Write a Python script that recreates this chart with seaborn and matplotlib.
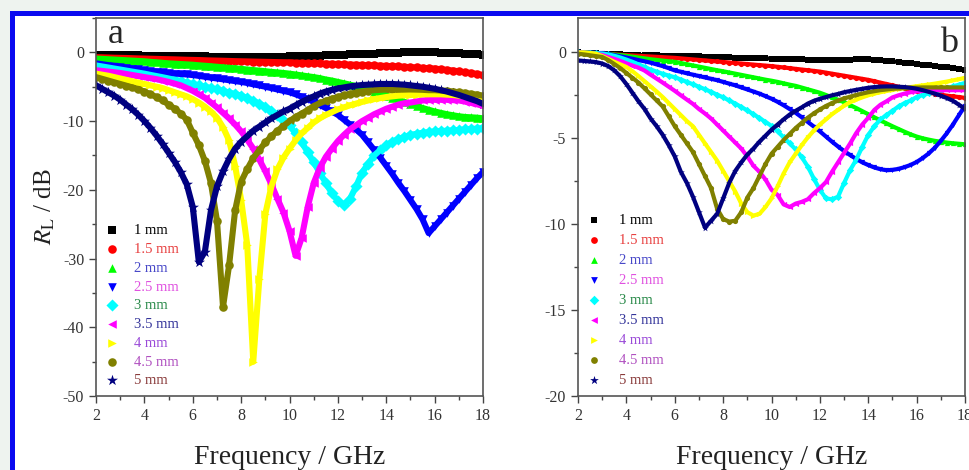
import matplotlib
matplotlib.use("Agg")
import matplotlib.pyplot as plt
from matplotlib.patches import Rectangle
from matplotlib.ticker import MultipleLocator
import numpy as np
import seaborn as sns

sns.set_style("ticks")
plt.rcParams['font.family'] = ['Liberation Serif', 'DejaVu Serif']
plt.rcParams['mathtext.fontset'] = 'stix'
plt.rcParams['axes.unicode_minus'] = False

# frequency grid (GHz), shared by both panels
freq = [2.0, 2.25, 2.5, 2.75, 3.0, 3.25, 3.5, 3.75,
        4.0, 4.25, 4.5, 4.75, 5.0, 5.25, 5.5, 5.75,
        6.0, 6.25, 6.5, 6.75, 7.0, 7.25, 7.5, 7.75,
        8.0, 8.25, 8.5, 8.75, 9.0, 9.25, 9.5, 9.75,
        10.0, 10.25, 10.5, 10.75, 11.0, 11.25, 11.5, 11.75,
        12.0, 12.25, 12.5, 12.75, 13.0, 13.25, 13.5, 13.75,
        14.0, 14.25, 14.5, 14.75, 15.0, 15.25, 15.5, 15.75,
        16.0, 16.25, 16.5, 16.75, 17.0, 17.25, 17.5, 17.75,
        18.0]

labels = ["1 mm", "1.5 mm", "2 mm", "2.5 mm", "3 mm", "3.5 mm", "4 mm", "4.5 mm", "5 mm"]

# ---- panel a: reflection loss (dB)
a_1mm = [-0.4, -0.4, -0.4, -0.4, -0.4, -0.45, -0.45, -0.45,
         -0.5, -0.5, -0.5, -0.5, -0.55, -0.55, -0.55, -0.6,
         -0.6, -0.6, -0.6, -0.65, -0.65, -0.65, -0.65, -0.7,
         -0.7, -0.7, -0.7, -0.7, -0.7, -0.7, -0.65, -0.65,
         -0.6, -0.6, -0.55, -0.55, -0.5, -0.5, -0.45, -0.4,
         -0.4, -0.35, -0.3, -0.3, -0.25, -0.2, -0.2, -0.15,
         -0.1, -0.1, -0.05, 0.0, 0.0, 0.0, 0.0, 0.0,
         0.0, -0.05, -0.1, -0.1, -0.15, -0.2, -0.25, -0.3,
         -0.35]
a_15mm = [-0.7, -0.72, -0.75, -0.78, -0.8, -0.82, -0.85, -0.88,
          -0.9, -0.93, -0.95, -0.98, -1.0, -1.02, -1.05, -1.08,
          -1.1, -1.12, -1.15, -1.18, -1.2, -1.22, -1.25, -1.28,
          -1.3, -1.32, -1.34, -1.36, -1.38, -1.4, -1.42, -1.44,
          -1.46, -1.5, -1.52, -1.55, -1.58, -1.6, -1.64, -1.67,
          -1.7, -1.74, -1.78, -1.8, -1.84, -1.88, -1.9, -1.94,
          -1.98, -2.0, -2.04, -2.1, -2.15, -2.2, -2.25, -2.3,
          -2.36, -2.45, -2.55, -2.65, -2.75, -2.9, -3.0, -3.15,
          -3.3]
a_2mm = [-0.9, -0.95, -1.0, -1.05, -1.1, -1.15, -1.2, -1.25,
         -1.3, -1.38, -1.45, -1.52, -1.6, -1.65, -1.7, -1.75,
         -1.8, -1.88, -1.95, -2.02, -2.1, -2.18, -2.25, -2.32,
         -2.4, -2.5, -2.58, -2.66, -2.75, -2.84, -2.92, -3.0,
         -3.1, -3.22, -3.35, -3.48, -3.6, -3.75, -3.95, -4.1,
         -4.3, -4.5, -4.7, -4.9, -5.1, -5.4, -5.7, -6.0,
         -6.3, -6.6, -6.9, -7.2, -7.5, -7.8, -8.1, -8.35,
         -8.6, -8.8, -9.0, -9.15, -9.3, -9.4, -9.45, -9.5,
         -9.6]
a_25mm = [-1.6, -1.72, -1.85, -1.98, -2.1, -2.22, -2.35, -2.48,
          -2.6, -2.7, -2.8, -2.9, -3.0, -3.08, -3.15, -3.22,
          -3.3, -3.42, -3.55, -3.68, -3.8, -3.92, -4.05, -4.18,
          -4.3, -4.45, -4.65, -4.82, -5.0, -5.2, -5.4, -5.6,
          -5.8, -6.1, -6.45, -6.8, -7.2, -7.65, -8.1, -8.6,
          -9.1, -9.8, -10.5, -11.2, -12.0, -13.1, -14.2, -15.3,
          -16.5, -17.7, -19.0, -20.2, -21.5, -22.8, -24.3, -26.3,
          -25.3, -24.3, -23.3, -22.3, -21.3, -20.3, -19.3, -18.3,
          -17.4]
a_3mm = [-1.9, -2.05, -2.2, -2.35, -2.5, -2.65, -2.8, -2.95,
         -3.1, -3.28, -3.45, -3.62, -3.8, -4.0, -4.2, -4.4,
         -4.6, -4.8, -5.0, -5.2, -5.4, -5.6, -5.85, -6.05,
         -6.3, -6.65, -7.05, -7.45, -7.9, -8.5, -9.1, -9.8,
         -10.6, -11.8, -13.1, -14.5, -16.0, -17.5, -19.0, -20.5,
         -21.6, -22.2, -21.3, -19.5, -17.5, -16.2, -15.0, -14.2,
         -13.5, -13.0, -12.6, -12.3, -12.0, -11.85, -11.7, -11.6,
         -11.5, -11.45, -11.4, -11.35, -11.3, -11.2, -11.15, -11.1,
         -11.0]
a_35mm = [-2.6, -2.7, -2.8, -2.9, -3.0, -3.15, -3.3, -3.45,
          -3.6, -3.75, -3.9, -4.1, -4.3, -4.55, -4.8, -5.2,
          -5.6, -6.1, -6.6, -7.3, -8.0, -8.8, -9.6, -10.5,
          -11.5, -12.7, -14.0, -15.6, -17.3, -19.2, -21.3, -23.3,
          -26.0, -29.6, -27.0, -22.5, -19.0, -16.8, -15.2, -14.0,
          -12.9, -12.0, -11.2, -10.6, -10.0, -9.5, -9.0, -8.6,
          -8.2, -7.9, -7.6, -7.4, -7.3, -7.15, -7.0, -6.95,
          -6.9, -6.9, -6.9, -6.95, -7.0, -7.15, -7.35, -7.55,
          -7.8]
a_4mm = [-3.1, -3.25, -3.4, -3.6, -3.8, -4.0, -4.2, -4.4,
         -4.6, -4.8, -5.0, -5.2, -5.5, -5.8, -6.1, -6.4,
         -6.8, -7.3, -7.9, -8.6, -9.5, -10.9, -12.8, -16.5,
         -21.5, -28.0, -45.0, -33.0, -23.5, -19.5, -17.0, -15.3,
         -14.0, -12.8, -11.8, -11.0, -10.2, -9.6, -9.1, -8.7,
         -8.3, -8.0, -7.7, -7.45, -7.2, -7.0, -6.8, -6.65,
         -6.5, -6.4, -6.3, -6.25, -6.2, -6.15, -6.1, -6.1,
         -6.1, -6.1, -6.15, -6.2, -6.3, -6.4, -6.55, -6.65,
         -6.8]
a_45mm = [-3.6, -3.85, -4.1, -4.35, -4.6, -4.85, -5.1, -5.4,
          -5.7, -6.1, -6.5, -7.0, -7.6, -8.2, -8.9, -9.8,
          -11.7, -13.5, -15.8, -19.0, -24.5, -37.0, -31.0, -23.0,
          -18.8, -17.0, -15.4, -14.2, -13.1, -12.2, -11.4, -10.7,
          -10.0, -9.4, -8.9, -8.4, -7.8, -7.4, -7.05, -6.75,
          -6.5, -6.25, -6.05, -5.85, -5.7, -5.6, -5.5, -5.45,
          -5.4, -5.4, -5.4, -5.4, -5.4, -5.42, -5.45, -5.5,
          -5.5, -5.55, -5.6, -5.7, -5.8, -5.9, -6.05, -6.15,
          -6.3]
a_5mm = [-4.8, -5.3, -5.8, -6.3, -6.9, -7.6, -8.3, -9.1,
         -10.0, -11.0, -12.1, -13.3, -14.6, -15.9, -17.4, -19.2,
         -22.5, -30.5, -29.0, -23.0, -19.5, -17.3, -15.5, -14.0,
         -13.0, -12.2, -11.4, -10.8, -10.2, -9.6, -9.1, -8.6,
         -8.2, -7.7, -7.2, -6.8, -6.4, -6.0, -5.7, -5.45,
         -5.25, -5.1, -4.95, -4.85, -4.75, -4.7, -4.65, -4.6,
         -4.6, -4.6, -4.65, -4.7, -4.8, -4.9, -5.0, -5.15,
         -5.3, -5.5, -5.7, -5.95, -6.2, -6.5, -6.8, -7.1,
         -7.5]

# ---- panel b
b_1mm = [0.0, -0.02, -0.04, -0.06, -0.08, -0.1, -0.11, -0.12,
         -0.13, -0.14, -0.15, -0.16, -0.17, -0.18, -0.19, -0.2,
         -0.2, -0.21, -0.22, -0.23, -0.24, -0.25, -0.26, -0.27,
         -0.28, -0.29, -0.3, -0.31, -0.32, -0.33, -0.34, -0.35,
         -0.36, -0.37, -0.38, -0.39, -0.4, -0.41, -0.42, -0.43,
         -0.44, -0.44, -0.44, -0.43, -0.42, -0.42, -0.41, -0.41,
         -0.4, -0.42, -0.45, -0.48, -0.52, -0.56, -0.6, -0.64,
         -0.68, -0.72, -0.76, -0.8, -0.84, -0.88, -0.92, -0.96,
         -1.0]
b_15mm = [0.0, -0.02, -0.04, -0.06, -0.08, -0.1, -0.12, -0.14,
          -0.16, -0.18, -0.2, -0.22, -0.24, -0.26, -0.28, -0.3,
          -0.32, -0.35, -0.38, -0.41, -0.44, -0.47, -0.5, -0.53,
          -0.56, -0.59, -0.62, -0.65, -0.68, -0.71, -0.74, -0.77,
          -0.8, -0.84, -0.88, -0.92, -0.96, -1.0, -1.04, -1.08,
          -1.12, -1.18, -1.24, -1.3, -1.36, -1.42, -1.48, -1.54,
          -1.6, -1.68, -1.76, -1.84, -1.92, -2.0, -2.08, -2.16,
          -2.22, -2.28, -2.34, -2.4, -2.46, -2.52, -2.56, -2.6,
          -2.65]
b_2mm = [0.0, -0.02, -0.04, -0.06, -0.08, -0.1, -0.13, -0.16,
         -0.2, -0.25, -0.3, -0.35, -0.4, -0.44, -0.48, -0.52,
         -0.55, -0.62, -0.69, -0.76, -0.83, -0.9, -0.97, -1.04,
         -1.1, -1.17, -1.24, -1.31, -1.38, -1.45, -1.52, -1.59,
         -1.65, -1.72, -1.8, -1.88, -1.95, -2.05, -2.15, -2.25,
         -2.35, -2.48, -2.62, -2.76, -2.9, -3.07, -3.24, -3.42,
         -3.6, -3.78, -3.96, -4.13, -4.3, -4.46, -4.62, -4.77,
         -4.9, -5.0, -5.08, -5.15, -5.2, -5.25, -5.29, -5.32,
         -5.35]
b_25mm = [0.0, -0.01, -0.02, -0.03, -0.05, -0.1, -0.16, -0.23,
          -0.3, -0.37, -0.45, -0.52, -0.6, -0.7, -0.8, -0.92,
          -1.05, -1.13, -1.22, -1.3, -1.38, -1.46, -1.54, -1.62,
          -1.72, -1.82, -1.92, -2.04, -2.16, -2.28, -2.4, -2.55,
          -2.7, -2.88, -3.08, -3.3, -3.52, -3.78, -4.05, -4.32,
          -4.6, -4.9, -5.2, -5.48, -5.74, -5.98, -6.2, -6.4,
          -6.56, -6.7, -6.8, -6.86, -6.84, -6.78, -6.68, -6.55,
          -6.38, -6.15, -5.88, -5.55, -5.15, -4.7, -4.2, -3.65,
          -3.1]
b_3mm = [0.0, -0.01, -0.02, -0.04, -0.07, -0.12, -0.2, -0.3,
         -0.42, -0.55, -0.7, -0.85, -1.0, -1.12, -1.25, -1.35,
         -1.45, -1.58, -1.72, -1.86, -2.0, -2.15, -2.3, -2.46,
         -2.62, -2.8, -2.98, -3.18, -3.38, -3.6, -3.82, -4.05,
         -4.28, -4.6, -4.95, -5.3, -5.65, -6.1, -6.65, -7.35,
         -8.0, -8.5, -8.55, -8.4, -7.6, -6.85, -6.25, -5.5,
         -4.8, -4.3, -3.9, -3.65, -3.4, -3.15, -2.95, -2.8,
         -2.6, -2.48, -2.38, -2.28, -2.18, -2.08, -1.98, -1.88,
         -1.78]
b_35mm = [0.0, -0.02, -0.05, -0.1, -0.15, -0.27, -0.38, -0.5,
          -0.64, -0.77, -0.89, -1.06, -1.3, -1.53, -1.76, -2.0,
          -2.24, -2.5, -2.75, -3.0, -3.3, -3.56, -3.85, -4.2,
          -4.55, -4.9, -5.25, -5.6, -6.06, -6.6, -6.95, -7.4,
          -8.0, -8.3, -8.85, -9.0, -8.8, -8.7, -8.55, -8.2,
          -7.9, -7.55, -6.95, -6.4, -5.85, -5.3, -4.7, -4.2,
          -3.8, -3.35, -3.05, -2.85, -2.62, -2.5, -2.4, -2.32,
          -2.27, -2.24, -2.22, -2.2, -2.2, -2.2, -2.2, -2.2,
          -2.2]
b_4mm = [0.0, 0.0, -0.03, -0.08, -0.22, -0.38, -0.55, -0.7,
         -0.85, -1.1, -1.38, -1.68, -1.98, -2.28, -2.6, -2.95,
         -3.3, -3.65, -4.0, -4.3, -4.8, -5.3, -5.8, -6.3,
         -6.9, -7.5, -8.1, -8.8, -9.3, -9.5, -9.4, -9.0,
         -8.5, -7.8, -7.05, -6.4, -5.9, -5.4, -4.95, -4.55,
         -4.2, -3.9, -3.6, -3.35, -3.1, -2.9, -2.75, -2.62,
         -2.5, -2.4, -2.32, -2.25, -2.18, -2.12, -2.07, -2.02,
         -1.97, -1.92, -1.87, -1.82, -1.76, -1.7, -1.63, -1.56,
         -1.48]
b_45mm = [-0.08, -0.12, -0.17, -0.22, -0.27, -0.45, -0.68, -0.92,
          -1.2, -1.48, -1.76, -2.1, -2.45, -2.8, -3.15, -3.72,
          -4.3, -4.8, -5.3, -5.8, -6.5, -7.2, -7.9, -9.1,
          -9.7, -9.85, -9.8, -9.3, -8.45, -7.9, -7.2, -6.5,
          -5.9, -5.5, -5.1, -4.75, -4.4, -4.1, -3.8, -3.55,
          -3.32, -3.12, -2.95, -2.8, -2.68, -2.58, -2.48, -2.4,
          -2.32, -2.26, -2.2, -2.16, -2.12, -2.1, -2.08, -2.06,
          -2.05, -2.04, -2.04, -2.04, -2.04, -2.04, -2.04, -2.04,
          -2.04]
b_5mm = [-0.47, -0.5, -0.53, -0.57, -0.65, -0.8, -1.05, -1.4,
         -1.85, -2.35, -2.85, -3.3, -3.85, -4.3, -4.8, -5.4,
         -6.06, -6.95, -7.6, -8.4, -9.3, -10.2, -9.8, -9.4,
         -8.5, -7.6, -6.9, -6.4, -5.95, -5.6, -5.2, -4.85,
         -4.5, -4.2, -3.9, -3.62, -3.4, -3.2, -2.98, -2.82,
         -2.7, -2.6, -2.5, -2.42, -2.32, -2.25, -2.18, -2.12,
         -2.06, -2.02, -1.99, -1.98, -1.98, -2.0, -2.02, -2.06,
         -2.12, -2.2, -2.3, -2.4, -2.52, -2.66, -2.82, -3.05,
         -3.3]

panel_a = [a_1mm, a_15mm, a_2mm, a_25mm, a_3mm, a_35mm, a_4mm, a_45mm, a_5mm]
panel_b = [b_1mm, b_15mm, b_2mm, b_25mm, b_3mm, b_35mm, b_4mm, b_45mm, b_5mm]

colors = ["#000000", "#ff0000", "#00ff00", "#0000ff", "#00ffff",
          "#ff00ff", "#ffff00", "#808000", "#000080"]
markers = ["s", "o", "^", "v", "D", "<", ">", "o", "*"]
text_colors = ["#000000", "#e84040", "#4848c8", "#e050e0", "#2a8a4a",
               "#34349a", "#9a4ad8", "#b050c0", "#8a3c3c"]

fig = plt.figure(figsize=(9.7, 4.7), dpi=100)
fig.patch.set_facecolor("#eef3ef")
fig.add_artist(Rectangle((12.5 / 970, -0.05), 1.1, 1.0234, transform=fig.transFigure,
                         facecolor="white", edgecolor="#0a0af0", linewidth=3.6, zorder=0))

ax_a = fig.add_axes([0.099, 0.1574, 0.399, 0.8043])
ax_b = fig.add_axes([0.5959, 0.1574, 0.399, 0.8043])


def draw_panel(ax, curves, size, lw):
    for vals, c, m, lab in zip(curves, colors, markers, labels):
        sns.lineplot(x=freq, y=vals, color=c, linewidth=lw, ax=ax, legend=False, sort=False)
        s = size * 1.8 if m == "*" else size
        sns.scatterplot(x=freq, y=vals, color=c, marker=m, s=s, linewidth=0, ax=ax, label=lab)


draw_panel(ax_a, panel_a, 38, 4.4)
draw_panel(ax_b, panel_b, 14, 3.0)

for ax, ylim, ymaj in [(ax_a, (-50, 5), 10), (ax_b, (-20, 2), 5)]:
    ax.set_facecolor("white")
    ax.set_xlim(2, 18)
    ax.set_ylim(*ylim)
    ax.xaxis.set_major_locator(MultipleLocator(2))
    ax.xaxis.set_minor_locator(MultipleLocator(1))
    ax.yaxis.set_major_locator(MultipleLocator(ymaj))
    ax.yaxis.set_minor_locator(MultipleLocator(ymaj / 2))
    ax.tick_params(which="both", direction="out", top=False, right=False,
                   width=1.0, color="#444444", labelsize=11.5, labelcolor="#333333")
    ax.tick_params(which="major", length=5)
    ax.tick_params(which="minor", length=3)
    for sp in ax.spines.values():
        sp.set_color("#555555")
        sp.set_linewidth(1.2)
    ax.set_xlabel("Frequency / GHz", fontsize=20, labelpad=15, color="#222222")

ax_a.set_ylabel(r"$R_{\mathrm{L}}$ / dB", fontsize=18, labelpad=4, color="#222222")
ax_b.set_ylabel("")

ax_a.text(0.031, 0.934, "a", transform=ax_a.transAxes, fontsize=26, va="baseline")
ax_b.text(0.935, 0.910, "b", transform=ax_b.transAxes, fontsize=26, va="baseline")

leg_a = ax_a.legend(loc="lower left", frameon=False, fontsize=10.5, handlelength=1.0,
                    handletextpad=1.0, labelspacing=0.38, borderaxespad=0.3, borderpad=0.3)
leg_b = ax_b.legend(loc="lower left", frameon=False, fontsize=10.5, handlelength=1.0,
                    handletextpad=1.2, labelspacing=0.47, borderaxespad=0.3, borderpad=0.3,
                    markerscale=1.3)
for leg in (leg_a, leg_b):
    for t, tc in zip(leg.get_texts(), text_colors):
        t.set_color(tc)

fig.savefig("out.png", dpi=100, facecolor=fig.get_facecolor())
